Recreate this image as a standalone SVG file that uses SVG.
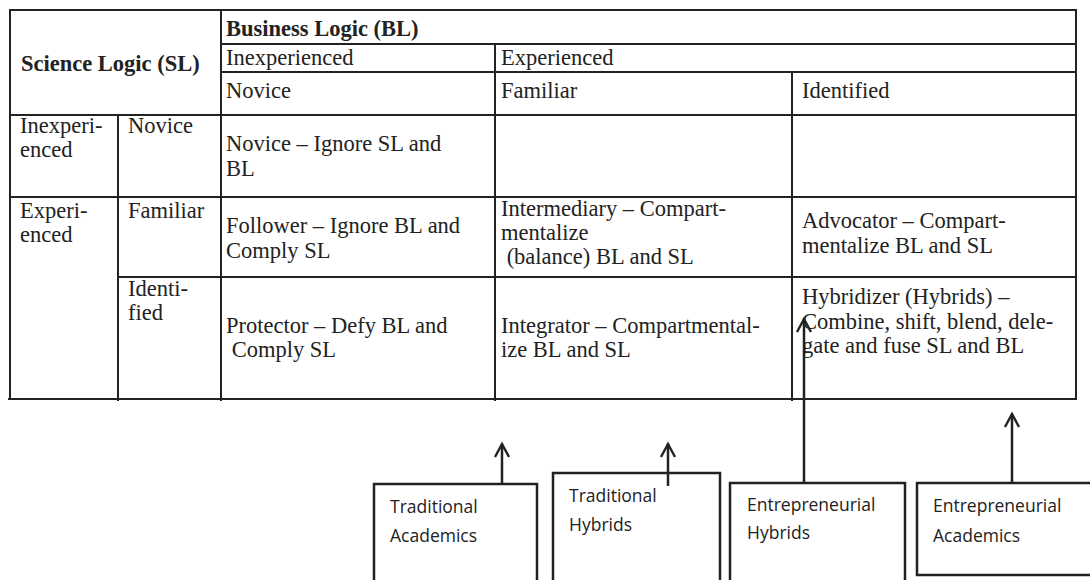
<svg xmlns="http://www.w3.org/2000/svg" width="1090" height="580" viewBox="0 0 1090 580">
<style>
.t{font-family:"Liberation Serif","Times New Roman",serif;font-size:22.5px;fill:#222}
.b{font-weight:bold}
.s{font-family:"Open Sans","Liberation Sans",sans-serif;font-size:17.5px;fill:#222}
.ln{stroke:#222;stroke-width:2;fill:none}
.bx{stroke:#222;stroke-width:2.5;fill:#fff}
.ar{stroke:#222;stroke-width:2.5;fill:none}
</style>
<defs>
<marker id="ah" markerWidth="18" markerHeight="18" refX="15" refY="9" orient="auto" markerUnits="userSpaceOnUse" viewBox="0 0 18 18">
<path d="M2,2 L15,9 L2,16" fill="none" stroke="#222" stroke-width="2.4"/>
</marker>
</defs>
<rect width="1090" height="580" fill="#fff"/>
<g id="table">
<g class="ln">
<rect x="10" y="10" width="1066" height="389"/>
<line x1="221" y1="44" x2="1076" y2="44"/>
<line x1="221" y1="72" x2="1076" y2="72"/>
<line x1="10" y1="115" x2="1076" y2="115"/>
<line x1="10" y1="197" x2="1076" y2="197"/>
<line x1="118" y1="277" x2="1076" y2="277"/>
<line x1="8" y1="399" x2="1076" y2="399"/>
<line x1="221" y1="10" x2="221" y2="401"/>
<line x1="118" y1="115" x2="118" y2="401"/>
<line x1="495" y1="44" x2="495" y2="401"/>
<line x1="792" y1="72" x2="792" y2="401"/>
</g>
<text class="t b" x="21" y="71">Science Logic (SL)</text>
<text class="t b" x="226" y="36">Business Logic (BL)</text>
<text class="t" x="226" y="65">Inexperienced</text>
<text class="t" x="501" y="65">Experienced</text>
<text class="t" x="226" y="98">Novice</text>
<text class="t" x="501" y="98">Familiar</text>
<text class="t" x="802" y="98">Identified</text>
<text class="t" x="20" y="133">Inexperi-</text>
<text class="t" x="20" y="157">enced</text>
<text class="t" x="128" y="133">Novice</text>
<text class="t" x="226" y="151">Novice – Ignore SL and</text>
<text class="t" x="226" y="176">BL</text>
<text class="t" x="20" y="218">Experi-</text>
<text class="t" x="20" y="242">enced</text>
<text class="t" x="128" y="218">Familiar</text>
<text class="t" x="226" y="233">Follower – Ignore BL and</text>
<text class="t" x="226" y="258">Comply SL</text>
<text class="t" x="501" y="216">Intermediary – Compart-</text>
<text class="t" x="501" y="240">mentalize</text>
<text class="t" x="501" y="264" xml:space="preserve"> (balance) BL and SL</text>
<text class="t" x="802" y="228">Advocator – Compart-</text>
<text class="t" x="802" y="253">mentalize BL and SL</text>
<text class="t" x="128" y="296">Identi-</text>
<text class="t" x="128" y="320">fied</text>
<text class="t" x="226" y="333">Protector – Defy BL and</text>
<text class="t" x="226" y="357" xml:space="preserve"> Comply SL</text>
<text class="t" x="501" y="333">Integrator – Compartmental-</text>
<text class="t" x="501" y="357">ize BL and SL</text>
<text class="t" x="802" y="304">Hybridizer (Hybrids) –</text>
<text class="t" x="802" y="329">Combine, shift, blend, dele-</text>
<text class="t" x="802" y="353">gate and fuse SL and BL</text>
</g>
<g id="box-traditional-academics">
<path class="bx" d="M374,590 V484 H537 V590"/>
<text class="s" x="390" y="513">Traditional</text>
<text class="s" x="390" y="542">Academics</text>
</g>
<g id="box-traditional-hybrids">
<path class="bx" d="M553,590 V473 H720 V590"/>
<text class="s" x="569" y="502">Traditional</text>
<text class="s" x="569" y="531">Hybrids</text>
</g>
<g id="box-entrepreneurial-hybrids">
<path class="bx" d="M730,590 V483 H905 V590"/>
<text class="s" x="747" y="511">Entrepreneurial</text>
<text class="s" x="747" y="539">Hybrids</text>
</g>
<g id="box-entrepreneurial-academics">
<path class="bx" d="M1092,575 H917 V483 H1092"/>
<text class="s" x="933" y="512">Entrepreneurial</text>
<text class="s" x="933" y="542">Academics</text>
</g>
<g id="connectors">
<line class="ar" x1="502" y1="484" x2="502" y2="444" marker-end="url(#ah)"/>
<line class="ar" x1="668" y1="486" x2="668" y2="444" marker-end="url(#ah)"/>
<line class="ar" x1="804" y1="483" x2="804" y2="319" marker-end="url(#ah)"/>
<line class="ar" x1="1012" y1="483" x2="1012" y2="414" marker-end="url(#ah)"/>
</g>
</svg>
